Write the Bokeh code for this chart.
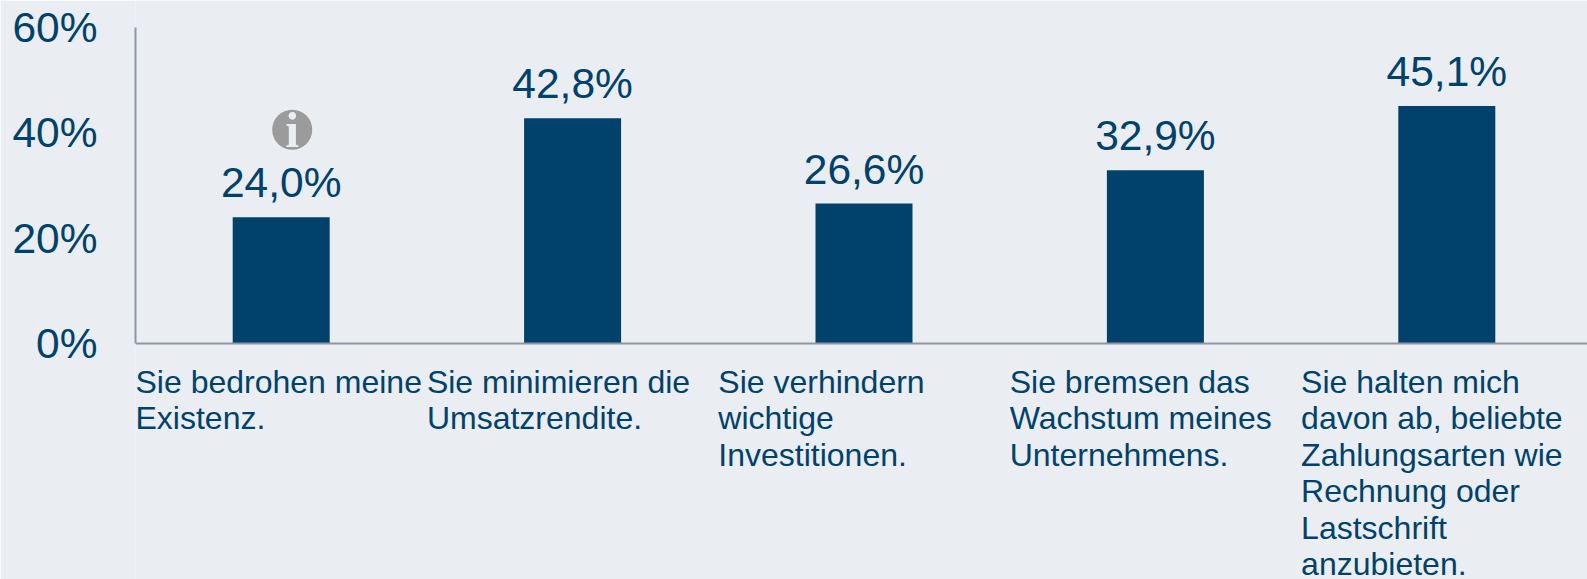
from bokeh.plotting import figure
from bokeh.models import Range1d, ColumnDataSource, FixedTicker
from bokeh.core.properties import value
from bokeh.embed import file_html
from bokeh.resources import INLINE

categories = ["Sie bedrohen meine\nExistenz.",
              "Sie minimieren die\nUmsatzrendite.",
              "Sie verhindern\nwichtige\nInvestitionen.",
              "Sie bremsen das\nWachstum meines\nUnternehmens.",
              "Sie halten mich\ndavon ab, beliebte\nZahlungsarten wie\nRechnung oder\nLastschrift\nanzubieten."]
values = [24.0, 42.8, 26.6, 32.9, 45.1]
labels = ["24,0%", "42,8%", "26,6%", "32,9%", "45,1%"]
y_ticks = [0, 20, 40, 60]
y_tick_labels = {0: "0%", 20: "20%", 40: "40%", 60: "60%"}
info_value = 40.6

BG = "#eaedf1"
BLUE = "#00426b"
FONT = "Liberation Sans"
W, H = 1587, 579
LEFT = 135
TOP0 = 27
PX_PER = 5.27
BAND = 291.4

xs = [i + 0.5 for i in range(len(values))]
src = ColumnDataSource(dict(x=xs, left=list(range(len(values))), top=values, lab=labels, cat=categories))

p = figure(width=W, height=H, output_backend="svg", toolbar_location=None,
           x_range=Range1d(0, (W - LEFT) / BAND),
           y_range=Range1d(-(H - TOP0 - 60 * PX_PER) / PX_PER, 60 + TOP0 / PX_PER),
           min_border_left=LEFT, min_border_right=0, min_border_top=0, min_border_bottom=0,
           background_fill_color=BG, border_fill_color=BG, outline_line_color=None)
p.grid.visible = False

p.vbar(x="x", top="top", bottom=0, width=97 / BAND, source=src, fill_color="#00426b", line_color=None)
p.text(x="x", y="top", text="lab", source=src, text_font=value(FONT), text_font_size="42.5px",
       text_color=BLUE, text_align="center", text_baseline="bottom", y_offset=-11)
p.text(x="left", y=0, text="cat", source=src, text_font=value(FONT), text_font_size="32px",
       text_color=BLUE, text_align="left", text_baseline="top", text_line_height=1.015, y_offset=20)

p.circle(x=[xs[0] + 11 / BAND], y=[info_value], radius=20 / BAND, fill_color="#9b9b9b", line_color=None)
p.text(x=[xs[0] + 11 / BAND], y=[info_value], text=["i"], text_font=value("Liberation Serif"), text_font_style="bold",
       text_font_size="50px", text_color=BG, text_align="center", text_baseline="middle")

ya = p.yaxis[0]
ya.ticker = FixedTicker(ticks=y_ticks)
ya.major_label_overrides = y_tick_labels
ya.bounds = (0, 60)
ya.major_label_text_font = FONT
ya.major_label_text_font_size = "42.5px"
ya.major_label_text_color = BLUE
ya.major_label_standoff = 32
ya.major_tick_line_color = None
ya.minor_tick_line_color = None
ya.axis_line_color = "#8e96a3"
ya.axis_line_width = 2

xa = p.xaxis[0]
xa.ticker = FixedTicker(ticks=[])
xa.fixed_location = 0
xa.major_label_text_font_size = "0px"
xa.major_tick_line_color = None
xa.minor_tick_line_color = None
xa.axis_line_color = "#8e96a3"
xa.axis_line_width = 2

open("out.html", "w").write(file_html(p, INLINE))
